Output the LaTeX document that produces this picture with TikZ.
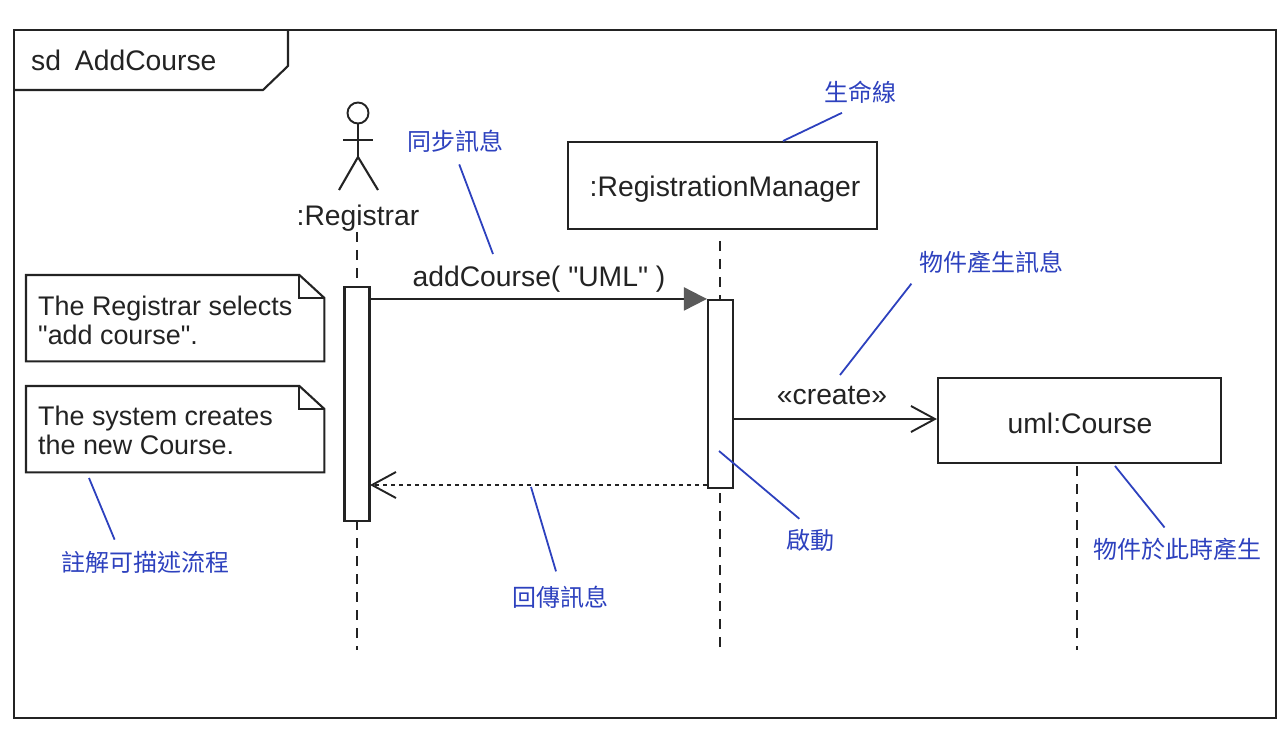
\documentclass[tikz,border=0pt]{standalone}
\usepackage{fontspec}
\usepackage{xcolor}
\setmainfont{Liberation Sans}[Ligatures=TeXOff]
\newfontfamily\cjkfont{Noto Sans CJK TC}
\usetikzlibrary{arrows.meta,calc,positioning}
\definecolor{inkblack}{RGB}{35,35,35}
\definecolor{pengray}{RGB}{90,90,90}
\definecolor{memoblue}{RGB}{45,65,190}
\tikzset{
    % Define standard node styles
    umlbox/.style={
        rectangle, draw=inkblack, line width=2.1pt, fill=white, inner sep=0pt
    },
    activation/.style={
        rectangle, draw=inkblack, line width=2.1pt, fill=white,
        minimum width=25pt, inner sep=0pt
    },
    notebox/.style={
        rectangle, draw=none, anchor=north west,
        minimum width=298pt, minimum height=86pt, inner sep=0pt
    },
    notetext/.style={
        align=left, anchor=west, inner sep=0pt,
        font=\fontsize{26.9}{29}\selectfont, text=inkblack
    },
    plaintext/.style={
        inner sep=0pt, font=\fontsize{28.3}{32}\selectfont, text=inkblack
    },
    memo/.style={
        inner sep=0pt, minimum height=24pt,
        font=\cjkfont\fontsize{24}{28}\selectfont, text=memoblue
    },
    leader/.style={draw=memoblue, line width=1.8pt},
    lifeline/.style={draw=inkblack, line width=1.9pt, dash pattern=on 10pt off 8pt},
    outline/.style={draw=inkblack, line width=2.1pt},
    syncarrow/.style={outline, -{Triangle[length=23pt,width=23pt,color=pengray,fill=pengray]}},
    openarrow/.style={outline, -{Straight Barb[length=24pt,width=26pt,line width=1.9pt]}},
    replyarrow/.style={openarrow, dash pattern=on 4pt off 4pt}
}
\newcommand{\drawnote}[1]{
    \draw[outline] (#1.north west) -- ($(#1.north east)+(-25,0)$) -- ($(#1.north east)+(0,23)$)
        -- (#1.south east) -- (#1.south west) -- cycle;
    \draw[outline] ($(#1.north east)+(-25,0)$) -- ($(#1.north east)+(-25,23)$) -- ($(#1.north east)+(0,23)$);
}
\begin{document}
\begin{tikzpicture}[x=1pt,y=-1pt]
\useasboundingbox (0,0) rectangle (1284,735);

% frame
\coordinate (frameTL) at (14,30);
\coordinate (frameBR) at (1276,718);
\draw[outline] (frameTL) rectangle (frameBR);
\draw[outline] (14,90) -- (263,90) -- (288,66) -- (288,30);
\node[plaintext, anchor=west] (frameTitle) at (31,60) {sd\hspace{6pt} AddCourse};

% actor
\node[circle, draw=inkblack, line width=1.9pt, minimum size=21pt, inner sep=0pt] (actorHead) at (358,113) {};
\coordinate (actorHip) at (358,157);
\draw[outline] (actorHead) -- (actorHip);
\draw[outline] (343,140) -- (373,140);
\draw[outline] (339,190) -- (actorHip) -- (378,190);
\node[plaintext] (registrar) at (358,218) {:Registrar};

% objects
\node[umlbox, minimum width=309pt, minimum height=87pt] (manager) at (722.5,185.5) {};
\node[plaintext] (managerName) at (725,189) {:RegistrationManager};
\node[umlbox, minimum width=283pt, minimum height=85pt] (course) at (1079.5,420.5) {};
\node[plaintext] (courseName) at (1080,423) {uml:Course};

% lifelines
\coordinate (regEnd) at (357,650);
\coordinate (mgrEnd) at (720,650);
\coordinate (crsEnd) at (1077,650);
\draw[lifeline] (357,232) -- (regEnd);
\draw[lifeline] (720,241) -- (mgrEnd);
\draw[lifeline] (1077,466) -- (crsEnd);

% activations
\node[activation, minimum height=234pt] (regBar) at (357,404) {};
\node[activation, minimum height=188pt] (mgrBar) at (720.5,394) {};

% messages
\coordinate (msgEnd) at (mgrBar.north west);
\draw[syncarrow] (regBar.east |- msgEnd) -- (msgEnd);
\node[plaintext] (msgLabel) at (539,279) {addCourse( "UML" )};
\coordinate (replyEnd) at (370,485);
\draw[replyarrow] (mgrBar.west |- replyEnd) -- (replyEnd);
\coordinate (createStart) at (733,419);
\draw[openarrow] (createStart) -- (course.west |- createStart);
\node[plaintext] (createLabel) at (832,395) {«create»};

% notes
\node[notebox] (noteSelect) at (26,275) {};
\node[notebox] (noteCreate) at (26,386) {};
\drawnote{noteSelect}
\drawnote{noteCreate}
\node[notetext] (selectText) at (38,320) {The Registrar selects\\"add course".};
\node[notetext] (createText) at (38,430) {The system creates\\the new Course.};

% blue remarks
\node[memo] (memoLife) at (860,92) {生命線};
\node[memo] (memoSync) at (455,141) {同步訊息};
\node[memo] (memoNew) at (991,262) {物件產生訊息};
\node[memo] (memoBorn) at (1177,549) {物件於此時產生};
\node[memo] (memoActive) at (810,540) {啟動};
\node[memo] (memoReply) at (560,597) {回傳訊息};
\node[memo] (memoNote) at (145,562) {註解可描述流程};
\coordinate (lifeTip) at (783,141);
\coordinate (syncTip) at (493,254);
\coordinate (newTip) at (840,375);
\coordinate (bornTip) at (1115,466);
\coordinate (activeTip) at (719,451);
\coordinate (replyTip) at (531,487);
\coordinate (noteTip) at (89,478);
\draw[leader, shorten <=20pt] (memoLife.south) -- (lifeTip);
\draw[leader, shorten <=12pt] (memoSync.south) -- (syncTip);
\draw[leader, shorten <=12pt] (memoNew.south west) -- (newTip);
\draw[leader, shorten <=12pt] (memoBorn.112) -- (bornTip);
\draw[leader, shorten <=14pt] (memoActive.north) -- (activeTip);
\draw[leader, shorten <=14pt] (memoReply.north) -- (replyTip);
\draw[leader, shorten <=11pt] (memoNote.155) -- (noteTip);

\end{tikzpicture}
\end{document}
